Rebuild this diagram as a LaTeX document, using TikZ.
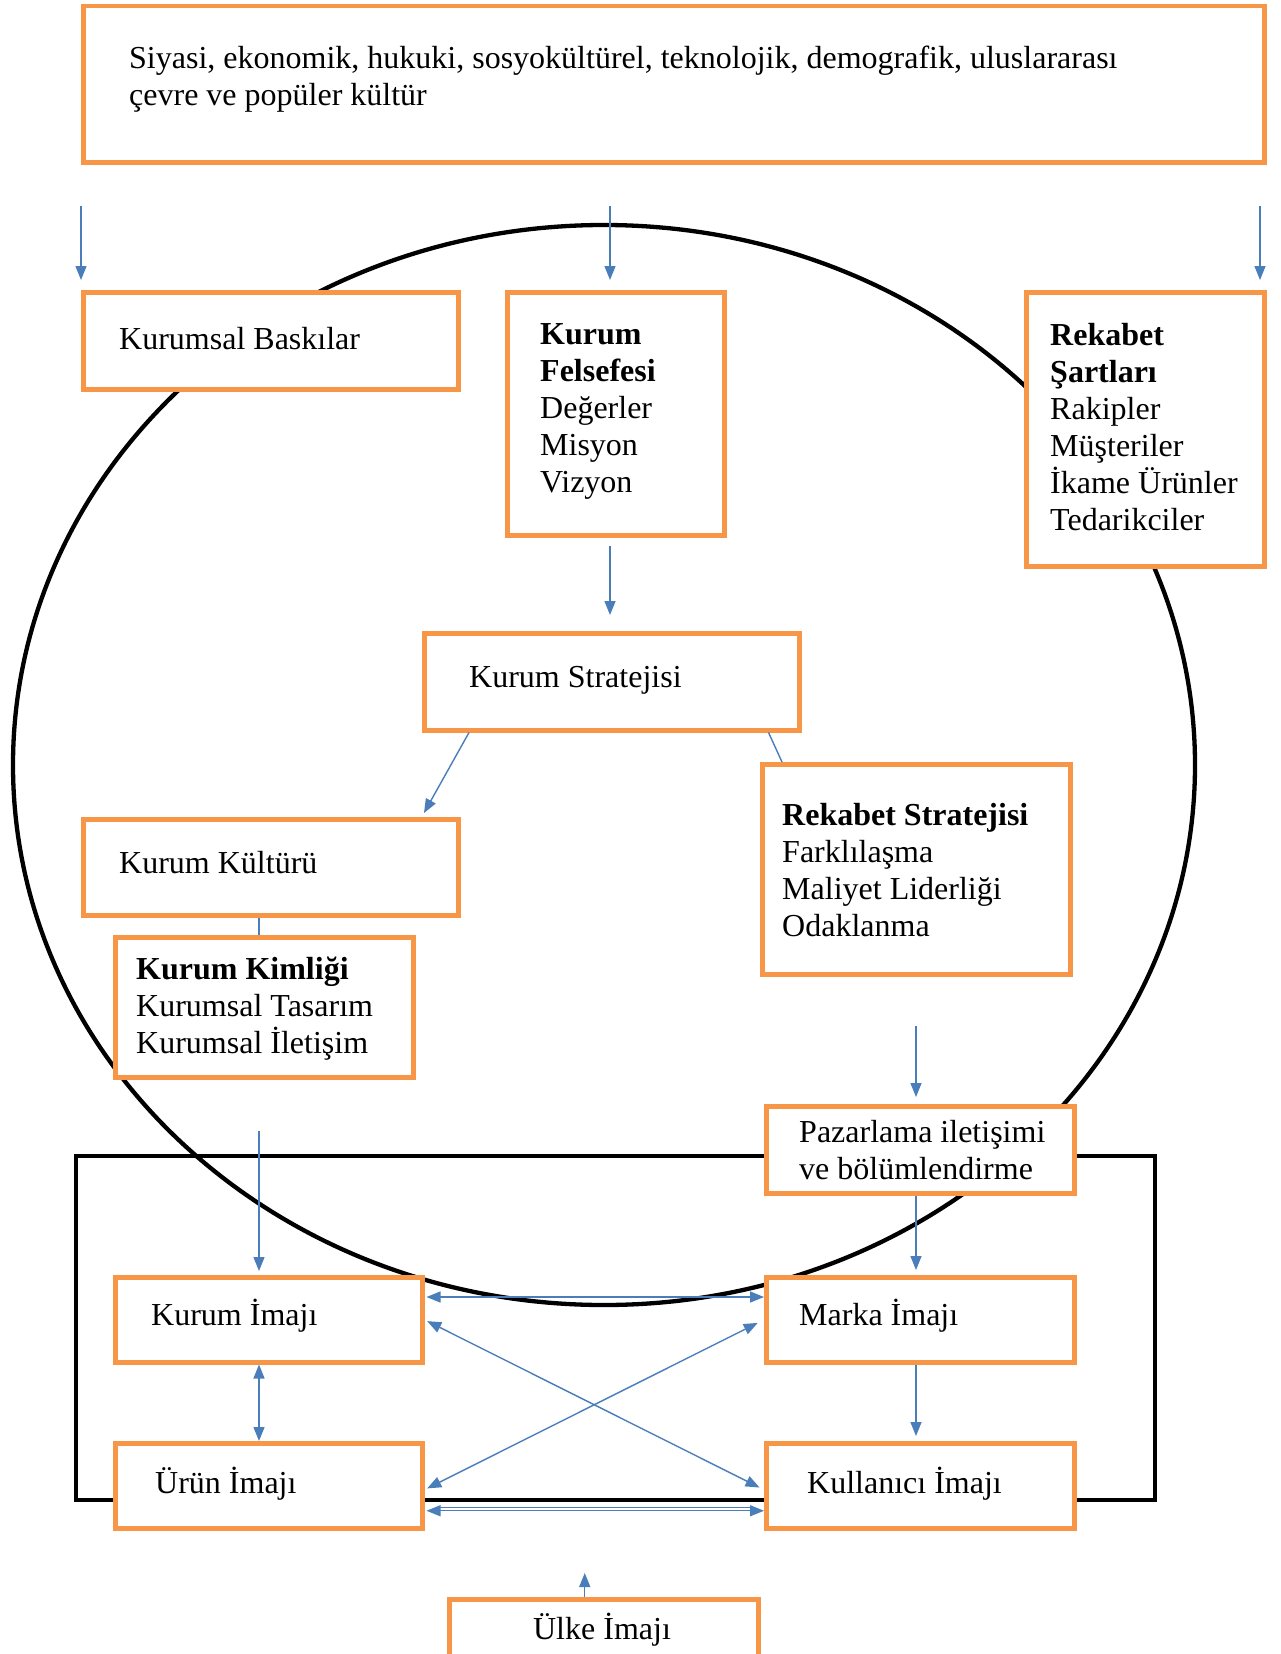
\documentclass[tikz,border=0pt]{standalone}
\usepackage{fontspec}
\setmainfont{Liberation Serif}
\usetikzlibrary{arrows.meta}
\definecolor{boxorange}{HTML}{F79646}
\definecolor{arrblue}{HTML}{4A7EBB}
\begin{document}
\begin{tikzpicture}[x=1pt,y=-1pt,
  box/.style={draw=boxorange, line width=4.5pt, fill=white, inner sep=0pt, anchor=north west},
  txt/.style={font=\fontsize{32}{37}\selectfont, align=left, inner sep=0pt, anchor=west},
  arr/.style={draw=arrblue, line width=1.4pt, -{Triangle[length=14pt,width=11pt]}},
  dbl/.style={draw=arrblue, line width=1.4pt, {Triangle[length=14pt,width=11pt]}-{Triangle[length=14pt,width=11pt]}},
  ln/.style={draw=arrblue, line width=1.4pt},
  blk/.style={draw=black, line width=4.3pt}]
\useasboundingbox (0,0) rectangle (1280,1654);
\fill[white] (0,0) rectangle (1280,1654);

% big ellipse and black frame
\draw[blk] (604,765) ellipse [x radius=591pt, y radius=540pt];
\draw[blk] (76,1156) rectangle (1155,1500);

% boxes
\node[box, minimum width=1181pt, minimum height=156pt] (env) at (81,4) {};
\node[txt] (envt) at (129,79) {Siyasi, ekonomik, hukuki, sosyokültürel, teknolojik, demografik, uluslararası\\çevre ve popüler kültür};

\node[box, minimum width=375pt, minimum height=97pt] (kb) at (81,290) {};
\node[txt] (kbt) at (119,339) {Kurumsal Baskılar};

\node[box, minimum width=217pt, minimum height=243pt] (kf) at (505,290) {};
\node[txt] (kft) at (540,411) {\textbf{Kurum}\\\textbf{Felsefesi}\\Değerler\\Misyon\\Vizyon};

\node[box, minimum width=238pt, minimum height=274pt] (rs) at (1024,290) {};
\node[txt] (rst1) at (1050,427) {\textbf{Rekabet}\\\textbf{Şartları}\\Rakipler\\Müşteriler\\İkame Ürünler\\Tedarikciler};

\node[box, minimum width=375pt, minimum height=97pt] (ks) at (422,631) {};
\node[txt] (kst) at (469,680) {Kurum Stratejisi};

\node[box, minimum width=375pt, minimum height=96pt] (kk) at (81,817) {};
\node[txt] (kkt) at (119,863) {Kurum Kültürü};

\node[box, minimum width=308pt, minimum height=210pt] (rst) at (760,762) {};
\node[txt] (rstt) at (782,870) {\textbf{Rekabet Stratejisi}\\Farklılaşma\\Maliyet Liderliği\\Odaklanma};

\node[box, minimum width=298pt, minimum height=140pt] (kim) at (113,935) {};
\node[txt] (kimt) at (136,1009) {\textbf{Kurum Kimliği}\\Kurumsal Tasarım\\Kurumsal İletişim};

\node[box, minimum width=308pt, minimum height=87pt] (pz) at (764,1104) {};
\node[txt] (pzt) at (799,1150) {Pazarlama iletişimi\\ve bölümlendirme};

\node[box, minimum width=307pt, minimum height=85pt] (ki) at (113,1275) {};
\node[txt] (kit) at (151,1316) {Kurum İmajı};

\node[box, minimum width=308pt, minimum height=85pt] (mi) at (764,1275) {};
\node[txt] (mit) at (799,1316) {Marka İmajı};

\node[box, minimum width=307pt, minimum height=85pt] (ui) at (113,1441) {};
\node[txt] (uit) at (155,1484) {Ürün İmajı};

\node[box, minimum width=308pt, minimum height=85pt] (kui) at (764,1441) {};
\node[txt] (kuit) at (807,1484) {Kullanıcı İmajı};

\node[box, minimum width=309pt, minimum height=80pt] (ul) at (447,1597) {};
\node[txt, anchor=center] (ult) at (602,1630) {Ülke İmajı};

% free-end coordinates
\coordinate (f1) at (81,206);
\coordinate (f2) at (610,206);
\coordinate (f3) at (1260,206);
\coordinate (f4) at (916,1026);
\coordinate (f5) at (259,1131);

% connectors
\draw[arr, shorten >=10pt] (f1) -- (f1 |- kb.north);
\draw[arr, shorten >=10pt] (f2) -- (f2 |- kf.north);
\draw[arr, shorten >=10pt] (f3) -- (f3 |- rs.north);
\draw[arr, shorten <=8pt, shorten >=16pt] (kf.south -| f2) -- (f2 |- ks.north);
\draw[arr] ([xshift=47pt]ks.south west) -- ([xshift=343pt,yshift=4pt]kk.north west);
\draw[ln] ([xshift=-33pt]ks.south east) -- ([xshift=22pt]rst.north west);
\draw[ln] ([xshift=178pt]kk.south west) -- ([xshift=146pt]kim.north west);
\draw[arr, shorten >=7pt] (f4) -- (f4 |- pz.north);
\draw[arr, shorten >=5pt] (pz.south -| f4) -- (f4 |- mi.north);
\draw[arr, shorten >=4pt] (f5) -- (f5 |- ki.north);
\draw[dbl] (ki.south -| f5) -- (f5 |- ui.north);
\draw[arr, shorten >=5pt] (mi.south -| f4) -- (f4 |- kui.north);
\draw[dbl, shorten <=2pt] ([yshift=-22pt]ki.north east) -- ([yshift=-22pt]mi.north west);
\draw[dbl, shorten <=3pt, shorten >=5pt] (ki.east) -- ([yshift=-4pt]kui.west);
\draw[dbl, shorten <=3pt, shorten >=7pt] ([yshift=-4pt]ui.east) -- (mi.west);
\draw[dbl, shorten <=2pt] ([yshift=-25pt]ui.east) -- ([yshift=-25pt]kui.west);
\draw[ln, line width=1pt, shorten <=12pt, shorten >=12pt] ([yshift=-22pt]ui.east) -- ([yshift=-22pt]kui.west);
\draw[arr] ([xshift=-19pt]ul.north) -- ([xshift=-19pt,yshift=24pt]ul.north);
\end{tikzpicture}
\end{document}
